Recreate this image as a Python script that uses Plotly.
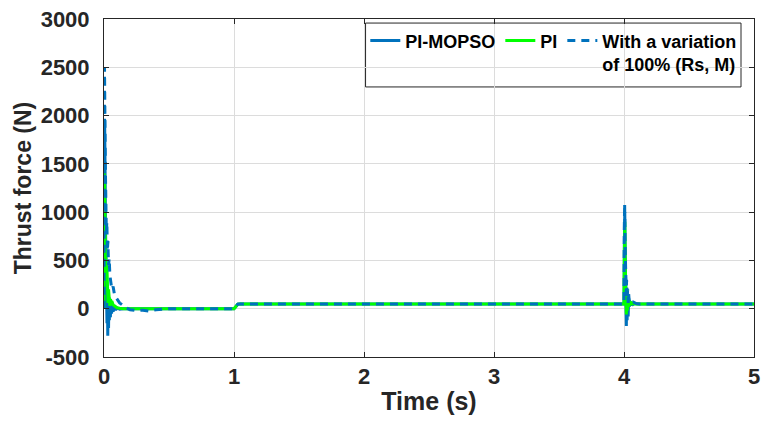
import plotly.graph_objects as go

# ---------------- data ----------------
t_mopso = [0, 0.002, 0.005, 0.008, 0.011, 0.014, 0.017, 0.020, 0.023, 0.026, 0.029, 0.032,
           0.035, 0.038, 0.041, 0.045, 0.049, 0.053, 0.058, 0.064, 0.07, 0.08, 0.09, 0.1,
           0.12, 0.15, 0.2, 0.5, 1.0, 1.01, 1.02, 1.03, 1.05, 2.0, 3.0, 4.0, 4.003, 4.006,
           4.009, 4.012, 4.015, 4.018, 4.021, 4.024, 4.028, 4.032, 4.036, 4.04, 4.045, 4.05,
           4.06, 4.07, 4.08, 4.1, 4.15, 5.0]
f_mopso = [0, 1200, 1950, 1500, 900, 550, 300, 120, -150, 200, -280, 150,
           -200, 120, -120, 80, -90, 60, -50, 40, -30, 20, -15, 10,
           -5, 0, 0, 0, 0, 15, 35, 48, 50, 50, 50, 50, 700, 1000,
           600, 300, 100, -180, 220, -120, 150, -80, 110, 20, 80, 35,
           65, 45, 55, 50, 50, 50]

t_pi = [0, 0.002, 0.004, 0.007, 0.010, 0.013, 0.016, 0.019, 0.022, 0.025, 0.028, 0.031,
        0.035, 0.04, 0.045, 0.05, 0.055, 0.06, 0.07, 0.08, 0.09, 0.1, 0.12, 0.15, 0.2,
        0.3, 1.0, 1.01, 1.02, 1.03, 1.05, 4.0, 4.003, 4.006, 4.009, 4.012, 4.015, 4.018,
        4.022, 4.026, 4.03, 4.035, 4.04, 4.05, 4.06, 4.08, 4.1, 5.0]
f_pi = [0, 900, 1400, 1100, 750, 500, 650, 300, 450, 150, 300, 60,
        200, 120, 30, 100, 60, 80, 40, 30, 15, 10, 5, 0, 0,
        0, 0, 15, 35, 48, 50, 50, 600, 900, 500, 250, 120, -60,
        200, -20, 120, 20, 90, 40, 60, 48, 50, 50]

t_var = [0, 0.002, 0.004, 0.007, 0.01, 0.014, 0.018, 0.022, 0.026, 0.03, 0.035, 0.04,
         0.045, 0.05, 0.06, 0.07, 0.08, 0.09, 0.1, 0.12, 0.14, 0.17, 0.2, 0.25, 0.3,
         0.35, 0.4, 0.5, 1.0, 1.01, 1.02, 1.03, 1.05, 4.0, 4.002, 4.005, 4.008, 4.011,
         4.014, 4.017, 4.02, 4.024, 4.028, 4.032, 4.036, 4.04, 4.05, 4.06, 4.07, 4.09,
         4.12, 5.0]
f_var = [0, 1800, 2500, 2000, 1500, 1100, 800, 900, 600, 700, 450, 520,
         350, 300, 200, 230, 150, 120, 100, 60, 40, 10, -10, -20, -15,
         -25, -10, 0, 0, 15, 35, 48, 50, 50, 800, 1090, 700, 400,
         280, 150, 300, 100, 200, 60, 150, 80, 90, 60, 70, 55,
         50, 50]

names = ["PI-MOPSO", "PI", "With a variation<br>of 100% (Rs, M)"]
x_ticks = [0, 1, 2, 3, 4, 5]
y_ticks = [-500, 0, 500, 1000, 1500, 2000, 2500, 3000]
y_tick_labels = ["-500", "0", "500", "1000", "1500", "2000", "2500", "3000"]

# ---------------- figure ----------------
BLUE = "#0072BD"
GREEN = "#00FF00"
FONT = "Liberation Sans, Arial, sans-serif"
TXT = "#262626"

fig = go.Figure()
fig.add_trace(go.Scatter(x=t_mopso, y=f_mopso, mode="lines", name=names[0],
                         line=dict(color=BLUE, width=3)))
fig.add_trace(go.Scatter(x=t_pi, y=f_pi, mode="lines", name=names[1],
                         line=dict(color=GREEN, width=3)))
fig.add_trace(go.Scatter(x=t_var, y=f_var, mode="lines", name=names[2],
                         line=dict(color=BLUE, width=3, dash="8px,6px")))

axis_common = dict(showgrid=True, gridcolor="#DCDCDC", gridwidth=1,
                   showline=True, linecolor=TXT, linewidth=1, mirror="ticks",
                   ticks="inside", ticklen=5, tickcolor=TXT, zeroline=False,
                   tickfont=dict(family=FONT, size=22, color=TXT, weight="bold"))

fig.update_xaxes(range=[0, 5], tickvals=x_ticks,
                 title=dict(text="Time (s)", font=dict(family=FONT, size=25, color=TXT, weight="bold"),
                            standoff=4),
                 **axis_common)
fig.update_yaxes(range=[-500, 3000], tickvals=y_ticks, ticktext=y_tick_labels,
                 ticklabelstandoff=9,
                 title=dict(text="Thrust force (N)", font=dict(family=FONT, size=23, color=TXT, weight="bold"),
                            standoff=2),
                 **axis_common)

fig.add_shape(type="rect", xref="paper", yref="paper",
              x0=0.4024, x1=0.980, y0=0.799, y1=0.988,
              line=dict(color=TXT, width=1), fillcolor="white", layer="below")

fig.update_layout(
    width=767, height=425,
    margin=dict(l=104, r=7, t=14, b=68),
    plot_bgcolor="rgba(0,0,0,0)", paper_bgcolor="white",
    showlegend=True,
    legend=dict(orientation="h", x=0.402, y=0.99, xanchor="left", yanchor="top",
                bgcolor="rgba(0,0,0,0)", borderwidth=0, valign="top",
                font=dict(family=FONT, size=18, color="#000000", weight="bold"),
                itemwidth=30, tracegroupgap=0),
)

fig.write_html("out.html")
